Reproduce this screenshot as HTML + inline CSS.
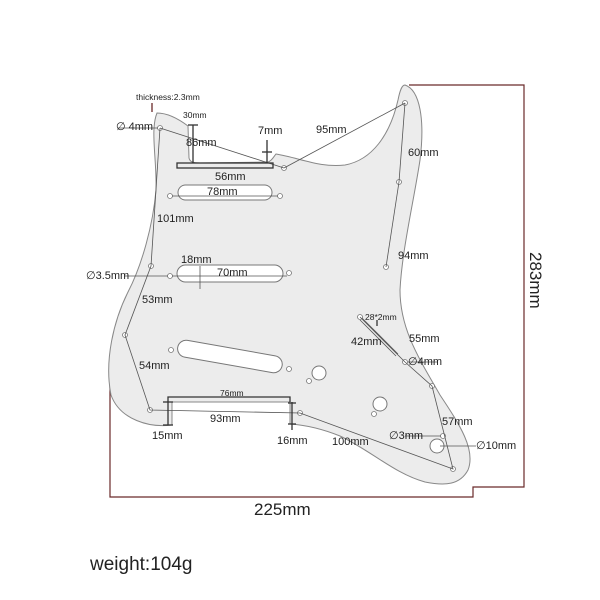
<!DOCTYPE html>
<html><head><style>
body{margin:0;background:#fff;}
svg{display:block;}
text{font-family:"Liberation Sans",sans-serif;fill:#222;}
</style></head><body>
<svg width="600" height="600" viewBox="0 0 600 600" xmlns="http://www.w3.org/2000/svg">
<g stroke="#6a2a2a" stroke-width="1.2" fill="none">
<polyline points="409,85 524,85 524,487 473,487 473,497 110,497 110,377"/>
</g>
<path d="M157,113 C168,113 180,120 188,126 L189,158 C190,162 193,163 200,163 L268,162 C272,161 274,156 276,154 C300,158 320,168 345,165 C372,160 390,135 398,100 C400,90 402,85 405,85 C420,90 425,120 420,160 C414,200 402,250 400,290 C400,330 420,360 440,395 C460,425 476,450 468,470 C460,485 445,486 425,482 C395,474 370,450 340,436 C320,428 305,425 290,424 L290,402 L172,402 L172,425 C150,428 120,420 111,395 C104,360 114,320 128,292 C142,265 153,225 156,190 C157,160 150,130 157,113 Z" fill="#ececec" stroke="#888" stroke-width="1"/>
<g fill="#fff" stroke="#777" stroke-width="1">
<rect x="178" y="185" width="94" height="15" rx="7.5"/>
<rect x="177" y="265" width="106" height="17" rx="8.5"/>
<rect x="177" y="348" width="106" height="17" rx="8.5" transform="rotate(10 230 356)"/>
<circle cx="319" cy="373" r="7"/>
<circle cx="380" cy="404" r="7"/>
<circle cx="437" cy="446" r="7"/>
</g>
<g fill="#fff" stroke="#777" stroke-width="0.8">
<circle cx="160" cy="128" r="2.5"/><circle cx="284" cy="168" r="2.5"/><circle cx="405" cy="103" r="2.5"/>
<circle cx="399" cy="182" r="2.5"/><circle cx="386" cy="267" r="2.5"/><circle cx="151" cy="266" r="2.5"/>
<circle cx="125" cy="335" r="2.5"/><circle cx="150" cy="410" r="2.5"/><circle cx="300" cy="413" r="2.5"/>
<circle cx="405" cy="362" r="2.5"/><circle cx="432" cy="386" r="2.5"/><circle cx="453" cy="469" r="2.5"/>
<circle cx="443" cy="436" r="2.5"/><circle cx="360" cy="317" r="2.5"/><circle cx="170" cy="196" r="2.5"/>
<circle cx="280" cy="196" r="2.5"/><circle cx="170" cy="276" r="2.5"/><circle cx="289" cy="273" r="2.5"/>
<circle cx="171" cy="350" r="2.5"/><circle cx="289" cy="369" r="2.5"/><circle cx="309" cy="381" r="2.5"/>
<circle cx="374" cy="414" r="2.5"/>
</g>
<g stroke="#555" stroke-width="0.8" fill="none">
<line x1="160" y1="128" x2="284" y2="168"/>
<line x1="284" y1="168" x2="405" y2="103"/>
<polyline points="405,103 399,182 386,267"/>
<polyline points="160,128 151,266 125,335 150,410 300,413 453,469 432,386 405,362 360,317"/>
<line x1="172" y1="196" x2="278" y2="196"/>
<line x1="172" y1="276" x2="287" y2="276"/>
<line x1="118" y1="128" x2="158" y2="128"/>
<line x1="124" y1="276" x2="168" y2="276"/>
<line x1="408" y1="362" x2="438" y2="362"/>
<line x1="405" y1="436" x2="441" y2="436"/>
<line x1="440" y1="446" x2="476" y2="446"/>
<line x1="200" y1="266" x2="200" y2="289"/>
<line x1="362" y1="318" x2="398" y2="354"/>
<line x1="360" y1="320" x2="396" y2="356"/>
</g>
<g stroke="#333" stroke-width="1.3" fill="none">
<rect x="177" y="163" width="96" height="5"/>
<line x1="193" y1="125" x2="193" y2="163"/><line x1="188" y1="125" x2="198" y2="125"/>
<line x1="267" y1="140" x2="267" y2="163"/><line x1="262" y1="152" x2="272" y2="152"/>
<polyline points="168,402 168,397 290,397 290,402"/>
<line x1="168" y1="402" x2="168" y2="425"/><line x1="163" y1="402" x2="173" y2="402"/><line x1="163" y1="425" x2="173" y2="425"/>
<line x1="292" y1="402" x2="292" y2="430"/><line x1="288" y1="403" x2="296" y2="403"/><line x1="288" y1="424" x2="296" y2="424"/>
<line x1="152" y1="103" x2="152" y2="112" stroke="#6a2a2a"/>
<line x1="377" y1="320" x2="377" y2="326"/>
</g>
<g font-size="11">
<text x="116" y="130">∅ 4mm</text>
<text x="186" y="146">86mm</text>
<text x="316" y="133">95mm</text>
<text x="408" y="156">60mm</text>
<text x="215" y="180">56mm</text>
<text x="207" y="195">78mm</text>
<text x="157" y="222">101mm</text>
<text x="398" y="259">94mm</text>
<text x="181" y="263">18mm</text>
<text x="217" y="276">70mm</text>
<text x="86" y="279">∅3.5mm</text>
<text x="142" y="303">53mm</text>
<text x="409" y="342">55mm</text>
<text x="351" y="345">42mm</text>
<text x="408" y="365">∅4mm</text>
<text x="139" y="369">54mm</text>
<text x="210" y="422">93mm</text>
<text x="442" y="425">57mm</text>
<text x="389" y="439">∅3mm</text>
<text x="476" y="449">∅10mm</text>
<text x="152" y="439">15mm</text>
<text x="277" y="444">16mm</text>
<text x="332" y="445">100mm</text>
<text x="258" y="134">7mm</text>
</g>
<g font-size="8.5">
<text x="136" y="100">thickness:2.3mm</text>
<text x="183" y="118">30mm</text>
<text x="220" y="396">76mm</text>
<text x="365" y="320">28*2mm</text>
</g>
<text x="254" y="515" font-size="17">225mm</text>
<text x="0" y="0" font-size="17" transform="translate(530,252) rotate(90)">283mm</text>
<text x="90" y="570" font-size="19">weight:104g</text>
</svg>
</body></html>
